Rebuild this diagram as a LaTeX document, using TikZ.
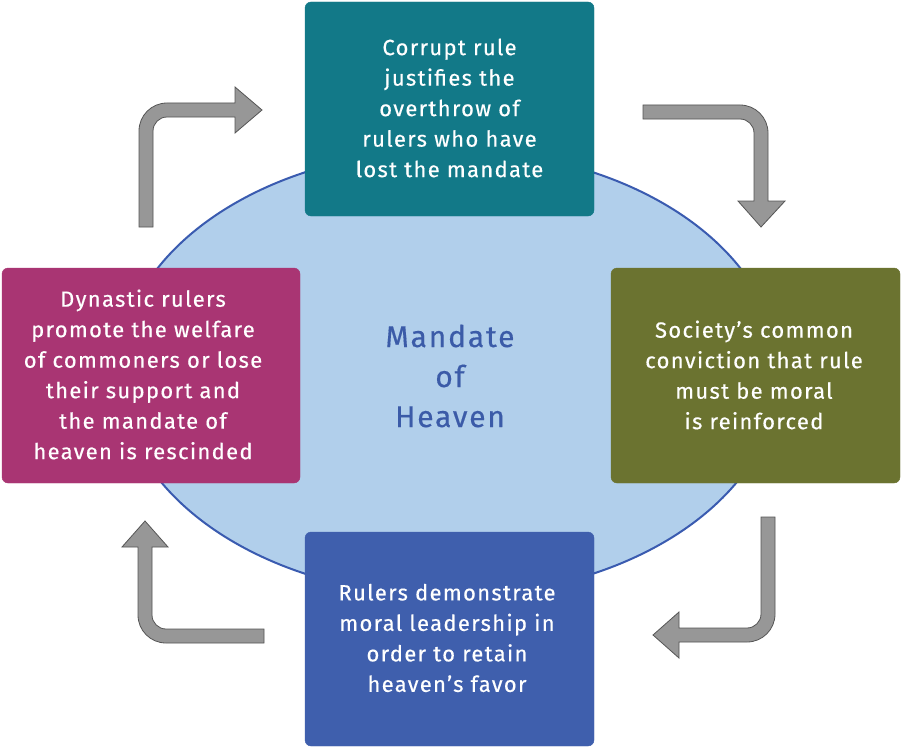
\documentclass[tikz,border=0pt]{standalone}
\usepackage{fontspec}
\usetikzlibrary{shapes.geometric}
\setmainfont[LetterSpace=6,FakeBold=0.4]{Fira Sans}
\definecolor{teal1}{RGB}{18,121,136}
\definecolor{olive1}{RGB}{107,115,48}
\definecolor{blue1}{RGB}{63,95,173}
\definecolor{mag1}{RGB}{169,53,115}
\definecolor{ellfill}{RGB}{177,207,235}
\definecolor{ellline}{RGB}{58,91,176}
\definecolor{mtext}{RGB}{59,91,168}
\definecolor{arrfill}{RGB}{151,151,151}
\definecolor{arrline}{RGB}{85,85,85}
\tikzset{
  box/.style={rectangle, rounded corners=6pt, inner sep=0pt},
  boxtext/.style={text=white, align=center, font=\fontsize{22}{30.5}\selectfont, inner sep=0pt},
  blockarrow/.style={fill=arrfill, draw=arrline, line width=0.8pt, line join=miter},
}
\begin{document}
\begin{tikzpicture}[x=1pt,y=-1pt]
\useasboundingbox (0,0) rectangle (901,749);
\fill[white] (0,0) rectangle (901,749);
% ellipse
\node[ellipse, draw=ellline, line width=2pt, fill=ellfill, minimum width=660pt, minimum height=446pt, inner sep=0pt] (ell) at (449,373) {};
\node[text=mtext, align=center, font=\fontsize{30}{40}\selectfont, inner sep=0pt] (mand) at (450,376) {Mandate\\of\\Heaven};
% boxes
\node[box, fill=teal1, draw=teal1, minimum width=289pt, minimum height=214pt] (top) at (449.5,109) {};
\node[box, fill=olive1, draw=olive1, minimum width=289pt, minimum height=215pt] (right) at (755.5,375.5) {};
\node[box, fill=blue1, draw=blue1, minimum width=289pt, minimum height=214pt] (bottom) at (449.5,639) {};
\node[box, fill=mag1, draw=mag1, minimum width=298pt, minimum height=215pt] (left) at (151,375.5) {};
% texts
\node[boxtext] (toptext) at (449.5,108) {Corrupt rule\\justifies the\\overthrow of\\rulers who have\\lost the mandate};
\node[boxtext] (righttext) at (754,375) {Society’s common\\conviction that rule\\must be moral\\is reinforced};
\node[boxtext] (bottomtext) at (447,638) {Rulers demonstrate\\moral leadership in\\order to retain\\heaven’s favor};
\node[boxtext] (lefttext) at (143,374.5) {Dynastic rulers\\promote the welfare\\of commoners or lose\\their support and\\the mandate of\\heaven is rescinded};
% block arrows
\draw[blockarrow] (139,227) -- (139,131) .. controls (139,115.5) and (151.5,103) .. (167,103) -- (235,103) -- (235,87) -- (262,110) -- (235,133) -- (235,117) -- (167,117) .. controls (159.3,117) and (153,123.3) .. (153,131) -- (153,227) -- cycle;
\draw[blockarrow] (643,105) -- (740,105) .. controls (755.5,105) and (768,117.5) .. (768,133) -- (768,201) -- (785,201) -- (761,227) -- (738,201) -- (754,201) -- (754,133) .. controls (754,125.3) and (747.7,119) .. (740,119) -- (643,119) -- cycle;
\draw[blockarrow] (761,517) -- (775,517) -- (775,614) .. controls (775,629.5) and (762.5,642) .. (747,642) -- (679,642) -- (679,658) -- (653,635) -- (679,612) -- (679,628) -- (747,628) .. controls (754.7,628) and (761,621.7) .. (761,614) -- cycle;
\draw[blockarrow] (264,629) -- (264,643) -- (166,643) .. controls (150.5,643) and (138,630.5) .. (138,615) -- (138,547) -- (122,547) -- (145,521) -- (168,547) -- (152,547) -- (152,615) .. controls (152,622.7) and (158.3,629) .. (166,629) -- cycle;
\end{tikzpicture}
\end{document}
